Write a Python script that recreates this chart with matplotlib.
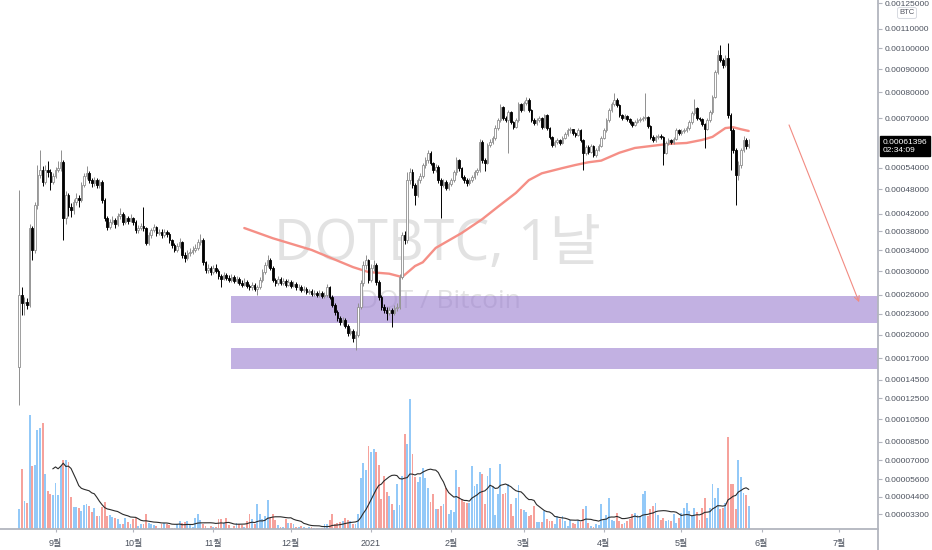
import numpy as np
import pandas as pd
import matplotlib
matplotlib.use('Agg')
import matplotlib.pyplot as plt
import matplotlib.dates as mdates
from matplotlib.lines import Line2D
from matplotlib.ticker import FixedLocator, FuncFormatter, NullLocator

plt.rcParams['font.family'] = ['Liberation Sans', 'Noto Sans CJK KR']

# DOT/BTC daily candles, prices in micro-BTC (1e-6 BTC)
start_date = '2020-08-18'
first_open = 160
close_ub = [
    260, 247, 249, 244, 387, 341, 440, 519, 533, 500,
    533, 527, 500, 516, 533, 539, 557, 410, 466, 435,
    428, 448, 458, 453, 492, 516, 525, 505, 497, 505,
    492, 500, 453, 410, 390, 401, 405, 396, 414, 419,
    401, 410, 403, 410, 401, 383, 387, 392, 387, 355,
    372, 383, 390, 376, 379, 372, 379, 374, 361, 351,
    341, 349, 357, 331, 325, 335, 337, 341, 345, 357,
    361, 317, 303, 307, 299, 307, 301, 292, 287, 294,
    289, 285, 290, 283, 287, 280, 277, 282, 275, 272,
    277, 270, 273, 285, 299, 312, 321, 307, 285, 280,
    287, 280, 283, 277, 282, 275, 278, 272, 273, 268,
    270, 265, 266, 262, 263, 260, 263, 258, 260, 272,
    257, 244, 233, 224, 218, 221, 213, 203, 206, 196,
    200, 241, 280, 312, 321, 285, 307, 312, 282, 257,
    241, 236, 232, 236, 232, 239, 241, 290, 372, 361,
    505, 527, 492, 466, 505, 516, 548, 563, 585, 554,
    533, 542, 505, 492, 500, 484, 494, 505, 527, 563,
    539, 513, 505, 497, 505, 513, 527, 533, 620, 563,
    554, 610, 620, 633, 666, 694, 742, 701, 694, 724,
    687, 670, 694, 754, 731, 758, 770, 731, 694, 684,
    694, 701, 670, 712, 666, 636, 610, 620, 626, 617,
    633, 646, 659, 662, 649, 643, 659, 626, 585, 604,
    588, 607, 579, 594, 607, 633, 659, 694, 731, 754,
    770, 750, 712, 701, 709, 698, 687, 677, 687, 694,
    698, 701, 705, 673, 636, 626, 636, 639, 636, 585,
    617, 626, 620, 630, 659, 649, 656, 659, 666, 687,
    720, 739, 701, 698, 680, 663, 694, 724, 782, 888,
    967, 943, 920, 953, 712, 659, 594, 519, 548, 594,
    626, 607, 614,
]
high_ub = [
    479, 273, 256, 255, 396, 392, 448, 548, 594, 545,
    548, 560, 535, 525, 541, 560, 594, 563, 476, 472,
    445, 455, 470, 466, 500, 525, 545, 530, 512, 514,
    510, 508, 505, 458, 415, 408, 414, 410, 422, 433,
    424, 416, 414, 418, 413, 405, 393, 398, 436, 390,
    378, 388, 396, 392, 385, 385, 384, 382, 378, 364,
    355, 356, 365, 360, 336, 340, 345, 348, 352, 364,
    375, 365, 320, 313, 310, 312, 313, 304, 296, 299,
    297, 293, 296, 293, 292, 290, 284, 288, 285, 278,
    282, 280, 277, 290, 304, 318, 331, 326, 310, 289,
    292, 290, 288, 286, 286, 284, 283, 281, 278, 276,
    275, 273, 270, 269, 267, 266, 267, 266, 264, 278,
    274, 259, 246, 236, 227, 225, 224, 215, 210, 208,
    205, 246, 285, 320, 331, 324, 313, 321, 315, 285,
    260, 245, 240, 240, 239, 243, 246, 296, 378, 380,
    527, 539, 535, 497, 512, 524, 555, 572, 594, 590,
    558, 550, 547, 510, 508, 505, 500, 512, 534, 572,
    567, 543, 518, 510, 511, 520, 533, 540, 630, 626,
    570, 616, 628, 640, 675, 703, 754, 748, 708, 730,
    728, 692, 700, 762, 760, 766, 782, 776, 735, 700,
    700, 708, 705, 718, 716, 670, 640, 626, 632, 630,
    640, 652, 666, 668, 664, 654, 665, 663, 630, 611,
    608, 613, 611, 600, 614, 640, 666, 701, 740, 762,
    798, 776, 754, 716, 715, 713, 702, 692, 693, 700,
    704, 708, 798, 710, 677, 641, 642, 646, 645, 640,
    623, 632, 630, 636, 665, 664, 662, 666, 672, 694,
    727, 775, 744, 706, 703, 684, 700, 730, 790, 897,
    990, 1016, 950, 966, 1026, 720, 665, 600, 560, 600,
    640, 633, 630,
]
low_ub = [
    118, 228, 229, 238, 240, 321, 335, 432, 510, 488,
    495, 515, 479, 494, 510, 527, 530, 361, 395, 415,
    412, 420, 440, 436, 448, 486, 508, 497, 487, 490,
    484, 485, 445, 402, 382, 384, 395, 388, 392, 408,
    394, 396, 396, 400, 394, 376, 377, 382, 380, 350,
    350, 366, 378, 370, 371, 366, 368, 368, 356, 345,
    336, 337, 344, 326, 318, 321, 330, 333, 336, 340,
    350, 312, 298, 297, 294, 296, 297, 287, 273, 284,
    284, 281, 282, 279, 280, 276, 272, 274, 271, 267,
    268, 266, 260, 270, 282, 296, 308, 303, 281, 275,
    277, 276, 277, 273, 274, 271, 272, 268, 268, 264,
    265, 261, 261, 258, 258, 256, 256, 254, 254, 257,
    253, 240, 229, 220, 214, 214, 209, 199, 200, 190,
    180, 197, 238, 275, 305, 280, 282, 300, 277, 252,
    236, 231, 221, 228, 211, 229, 235, 238, 286, 352,
    356, 495, 485, 440, 460, 498, 510, 540, 555, 548,
    525, 527, 498, 410, 486, 478, 478, 488, 500, 520,
    532, 507, 498, 490, 491, 499, 508, 520, 528, 555,
    530, 550, 604, 612, 626, 660, 688, 695, 686, 585,
    680, 664, 665, 688, 724, 726, 750, 725, 688, 677,
    678, 688, 664, 665, 660, 630, 603, 604, 614, 610,
    612, 628, 640, 650, 643, 637, 638, 620, 533, 578,
    581, 583, 573, 572, 589, 602, 628, 654, 688, 725,
    746, 744, 705, 694, 697, 692, 680, 670, 672, 683,
    688, 692, 695, 667, 630, 619, 620, 630, 629, 548,
    580, 611, 614, 614, 625, 643, 644, 650, 652, 660,
    682, 714, 695, 690, 673, 600, 658, 688, 718, 776,
    880, 935, 905, 912, 700, 533, 585, 440, 505, 540,
    588, 598, 600,
]
volume = [
    22, 62, 30, 28, 116, 65, 66, 101, 103, 108,
    57, 40, 37, 36, 48, 36, 65, 71, 71, 69,
    34, 24, 24, 23, 20, 26, 27, 25, 19, 23,
    15, 15, 24, 29, 15, 16, 14, 13, 12, 7,
    7, 13, 9, 7, 12, 13, 5, 7, 7, 17,
    8, 7, 6, 5, 3, 7, 8, 7, 6, 3,
    3, 7, 10, 8, 9, 10, 6, 4, 13, 17,
    11, 7, 5, 3, 5, 4, 4, 12, 12, 8,
    13, 6, 3, 5, 8, 7, 6, 4, 10, 17,
    12, 7, 27, 17, 12, 15, 31, 13, 17, 11,
    6, 4, 4, 12, 8, 8, 7, 4, 4, 5,
    4, 3, 4, 4, 3, 3, 3, 3, 7, 7,
    11, 17, 7, 8, 9, 10, 13, 11, 10, 7,
    7, 17, 53, 68, 61, 85, 79, 82, 79, 66,
    32, 55, 39, 35, 27, 21, 47, 26, 55, 97,
    87, 132, 77, 54, 49, 54, 63, 53, 43, 29,
    37, 22, 22, 25, 27, 43, 17, 21, 19, 61,
    44, 32, 29, 28, 28, 65, 45, 47, 59, 57,
    27, 55, 63, 45, 16, 37, 67, 37, 38, 47,
    27, 15, 33, 46, 22, 21, 19, 15, 16, 25,
    9, 9, 9, 20, 12, 10, 10, 7, 15, 12,
    15, 10, 5, 11, 8, 7, 11, 9, 22, 25,
    8, 5, 4, 7, 6, 27, 12, 16, 33, 11,
    10, 18, 10, 7, 8, 10, 12, 17, 18, 16,
    15, 37, 40, 15, 22, 25, 28, 16, 11, 13,
    10, 11, 10, 17, 8, 13, 18, 23, 28, 20,
    15, 23, 19, 11, 23, 33, 13, 23, 47, 33,
    43, 22, 23, 28, 94, 47, 47, 22, 71, 54,
    38, 36, 25,
]

# moving average line (day index from start, micro-BTC)
ma_day = [87, 98, 113, 129, 135, 143, 148, 153, 156, 161, 171, 179, 185, 192, 197,
          202, 210, 215, 220, 225, 232, 238, 245, 251, 258, 264, 268, 273, 276, 279, 282]
ma_ub = [387, 365, 341, 308, 299, 296, 290, 310, 317, 345, 376, 407, 436, 471, 505,
         524, 539, 548, 556, 561, 585, 600, 607, 613, 616, 626, 636, 666, 669, 662, 656]

# support zones (micro-BTC)
zone_upper = (216.7, 258.0)
zone_lower = (157.2, 182.9)
zone_start_day = 82

# projection arrow (day, micro-BTC)
arrow_from = (297.6, 677)
arrow_to = (324.7, 248)

last_price = 0.00061396
price_ticks = [0.00125, 0.0011, 0.001, 0.0009, 0.0008, 0.0007, 0.00054, 0.00048,
               0.00042, 0.00038, 0.00034, 0.0003, 0.00026, 0.00023, 0.0002, 0.00017,
               0.000145, 0.000125, 0.000105, 0.000085, 0.00007, 0.000056, 0.000044,
               0.000033]
month_ticks = ['2020-09-01', '2020-10-01', '2020-11-01', '2020-12-01', '2021-01-01',
               '2021-02-01', '2021-03-01', '2021-04-01', '2021-05-01', '2021-06-01',
               '2021-07-01']
month_labels = ['9월', '10월', '11월', '12월', '2021', '2월', '3월', '4월', '5월', '6월', '7월']

UB = 1e-6
OFFSET = 1e-4


def fwd(p):
    return np.log(np.maximum(np.asarray(p, dtype=float) + OFFSET, 1e-12))


def inv(v):
    return np.exp(v) - OFFSET


close = np.array(close_ub) * UB
open_ = np.array([first_open] + close_ub[:-1]) * UB
high = np.array(high_ub) * UB
low = np.array(low_ub) * UB
dates = pd.date_range(start_date, periods=len(close_ub), freq='D')
x = mdates.date2num(dates)
x0 = x[0]
up = close >= open_

W, H = 932, 550
fig = plt.figure(figsize=(W / 100, H / 100), dpi=100, facecolor='white')
rect = [0, 21 / H, 878 / W, 529 / H]
ax_vol = fig.add_axes(rect)
ax = fig.add_axes(rect, sharex=ax_vol)
ax.set_zorder(2)
ax_vol.set_zorder(1)
ax.patch.set_visible(False)

# volume
vol_colors = np.where(up, '#93c9f8', '#f6a29c')
ax_vol.bar(x, volume, width=0.72, color=vol_colors, linewidth=0)
vol_ma = pd.Series(volume).rolling(14).mean()
ax_vol.plot(x, vol_ma, color='#2b2b2b', lw=0.8)
ax_vol.set_ylim(2, 531)
ax_vol.axis('off')

# price
ax.set_yscale('function', functions=(fwd, inv))
ax.set_ylim(0.00002454, 0.0012685)
ax.set_xlim(x0 - 7.46, x0 + 332.0)

ax.text(437 / W, 1 - 260 / H, 'DOTBTC, 1날', transform=fig.transFigure,
        fontsize=40, color='#e2e2e2', ha='center', va='baseline',
        family=['Open Sans', 'Noto Sans CJK KR'], zorder=0.5)
ax.text(440 / W, 1 - 308 / H, 'DOT / Bitcoin', transform=fig.transFigure,
        fontsize=19, color='#e2e2e2', ha='center', va='baseline',
        family=['Open Sans', 'Noto Sans CJK KR'], zorder=0.5)

xmin_frac = (zone_start_day + 7.46) / (332.0 + 7.46)
for lo, hi in (zone_upper, zone_lower):
    ax.axhspan(lo * UB, hi * UB, xmin=xmin_frac, xmax=1, color='#9a7dd0',
               alpha=0.6, lw=0, zorder=1)

ax.plot(x0 + np.array(ma_day), np.array(ma_ub) * UB, color='#f58f86', lw=1.7,
        zorder=2, solid_capstyle='round')

wick_colors = np.where(up, '#8f8f8f', '#000000')
ax.vlines(x, low, high, colors=wick_colors, lw=0.7, zorder=3)
body_bottom = np.minimum(open_, close)
body_h = np.maximum(np.abs(close - open_), 1e-7)
ax.bar(x, body_h, bottom=body_bottom, width=0.62,
       color=np.where(up, '#ffffff', '#000000'),
       edgecolor=np.where(up, '#8f8f8f', '#000000'), lw=0.6, zorder=4)

ax.annotate('', xy=(x0 + arrow_to[0], arrow_to[1] * UB),
            xytext=(x0 + arrow_from[0], arrow_from[1] * UB),
            arrowprops=dict(arrowstyle='->', color='#f28b82', lw=0.8,
                            mutation_scale=9, shrinkA=0, shrinkB=0),
            zorder=5, annotation_clip=False)

# axes styling
for s in ('top', 'left'):
    ax.spines[s].set_visible(False)
for s in ('right', 'bottom'):
    ax.spines[s].set_color('#b2b5be')
    ax.spines[s].set_linewidth(1.3)
ax.yaxis.tick_right()
ax.yaxis.set_major_locator(FixedLocator(price_ticks))
ax.yaxis.set_minor_locator(NullLocator())
ax.yaxis.set_major_formatter(FuncFormatter(lambda v, pos: f'{v:.8f}'))
ax.tick_params(axis='y', length=3, width=0.8, color='#b2b5be', labelsize=6,
               labelcolor='#4c525e', pad=2)
ax.set_xticks(mdates.date2num(pd.to_datetime(month_ticks)))
ax.set_xticklabels(month_labels)
ax.tick_params(axis='x', length=2.5, width=0.8, color='#b2b5be', labelsize=6.5,
               labelcolor='#4c525e', pad=5)

fig.add_artist(Line2D([878 / W, 878 / W], [0, 21 / H], transform=fig.transFigure,
                      color='#b2b5be', lw=1.3))

ax.annotate(f'{last_price:.8f}\n02:34:09', xy=(1, last_price),
            xycoords=ax.get_yaxis_transform(), xytext=(3.5, 3.5),
            textcoords='offset points', ha='left', va='top', color='white',
            fontsize=6, linespacing=1.25,
            bbox=dict(boxstyle='square,pad=0.3', fc='black', ec='black'),
            annotation_clip=False, zorder=6)

fig.text(907 / W, 1 - 13 / H, 'BTC', fontsize=5.5, color='#50535e', ha='center',
         va='center', bbox=dict(boxstyle='round,pad=0.25', fc='white',
                                ec='#d1d4dc', lw=0.6))

fig.savefig('out.png', dpi=100, facecolor='white')
